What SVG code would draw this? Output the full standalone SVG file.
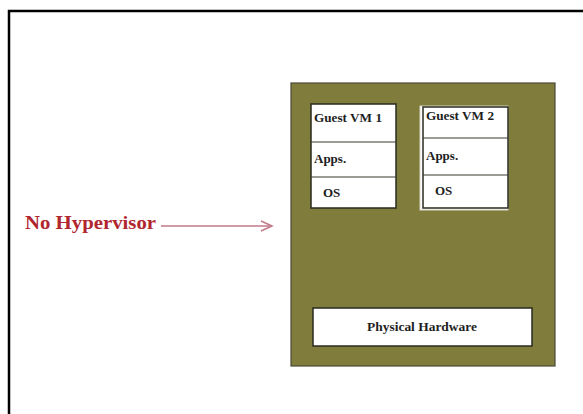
<svg xmlns="http://www.w3.org/2000/svg" width="583" height="414" viewBox="0 0 583 414">
<style>
.vm{fill:#ffffff;stroke:#2a2a20;stroke-width:1.5}
.div{stroke:#3a3a30;stroke-width:1.2}
.t{font-family:"Liberation Serif",serif;font-weight:bold;fill:#1e1e1e}
.red{font-family:"Liberation Serif",serif;font-weight:bold;fill:#b0262e}
</style>
<defs>
<marker id="ah" markerWidth="14" markerHeight="12" refX="12" refY="6" orient="auto" markerUnits="userSpaceOnUse">
<path d="M1,1 L12,6 L1,11" fill="none" stroke="#c07a88" stroke-width="1.5"/>
</marker>
</defs>
<rect width="583" height="414" fill="#ffffff"/>
<path d="M9,414 V11 H583" fill="none" stroke="#000" stroke-width="2.5"/>
<g id="host">
<rect x="291" y="83" width="264" height="283" fill="#807c3c" stroke="#4a4a3a" stroke-width="1.2"/>
</g>
<g id="vm1">
<rect class="vm" x="311" y="104" width="85" height="104"/>
<line class="div" x1="311" y1="142" x2="396" y2="142"/>
<line class="div" x1="311" y1="177" x2="396" y2="177"/>
<text class="t" x="314" y="122" font-size="13" textLength="68" lengthAdjust="spacingAndGlyphs">Guest VM 1</text>
<text class="t" x="314" y="163" font-size="13">Apps.</text>
<text class="t" x="323" y="197" font-size="13">OS</text>
</g>
<g id="vm2">
<rect x="420" y="106" width="88" height="104" fill="#ffffff" stroke="#d8d8c8" stroke-width="1"/>
<rect class="vm" x="423" y="107" width="85" height="101"/>
<line class="div" x1="423" y1="138" x2="508" y2="138"/>
<line class="div" x1="423" y1="175" x2="508" y2="175"/>
<text class="t" x="426" y="120" font-size="13" textLength="68" lengthAdjust="spacingAndGlyphs">Guest VM 2</text>
<text class="t" x="426" y="160" font-size="13">Apps.</text>
<text class="t" x="435" y="195" font-size="13">OS</text>
</g>
<g id="hardware">
<rect class="vm" x="313" y="308" width="219" height="38"/>
<text class="t" x="422" y="331" font-size="13" text-anchor="middle" textLength="110" lengthAdjust="spacingAndGlyphs">Physical Hardware</text>
</g>
<g id="label">
<text class="red" x="25" y="229" font-size="18" textLength="131" lengthAdjust="spacingAndGlyphs">No Hypervisor</text>
</g>
<g id="connectors">
<line x1="161" y1="226" x2="272" y2="226" stroke="#c07a88" stroke-width="1.5" marker-end="url(#ah)"/>
</g>
</svg>
